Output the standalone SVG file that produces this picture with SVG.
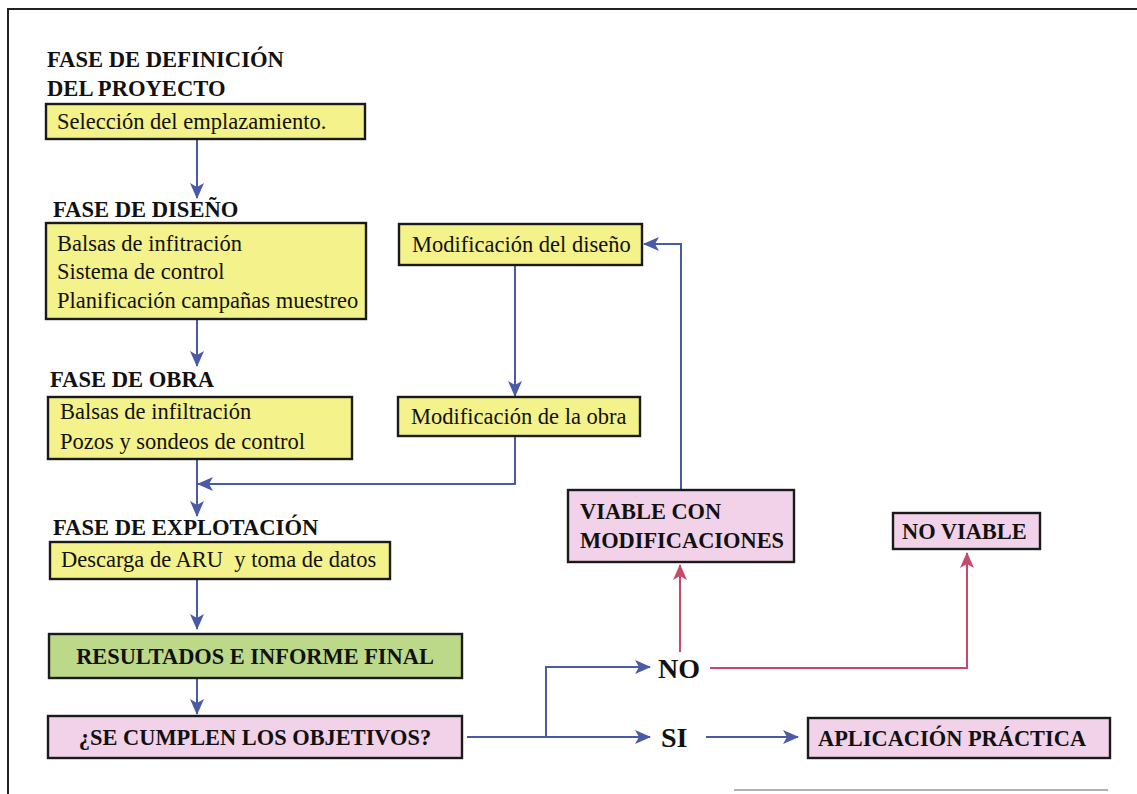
<svg xmlns="http://www.w3.org/2000/svg" width="1137" height="794" viewBox="0 0 1137 794">
<style>
.h{font-family:"Liberation Serif","Times New Roman",serif;font-weight:bold;font-size:22.6px;fill:#111}
.t{font-family:"Liberation Serif","Times New Roman",serif;font-size:22.5px;fill:#111}
.b{font-family:"Liberation Serif","Times New Roman",serif;font-weight:bold;font-size:22.4px;fill:#111}
.big{font-size:28px}
.y{fill:#f4f28a;stroke:#1a1a1a;stroke-width:2.4}
.g{fill:#bcd98a;stroke:#1a1a1a;stroke-width:2.4}
.p{fill:#f1d2e8;stroke:#1a1a1a;stroke-width:2.4}
.cb{fill:none;stroke:#4a5aa6;stroke-width:2}
.cr{fill:none;stroke:#c8486c;stroke-width:2}
</style>
<defs>
<marker id="ab" markerUnits="userSpaceOnUse" markerWidth="16" markerHeight="14" refX="15" refY="7" orient="auto">
<path d="M0,0 L16,7 L0,14 L4,7 Z" fill="#4a5aa6"/>
</marker>
<marker id="ar" markerUnits="userSpaceOnUse" markerWidth="16" markerHeight="14" refX="15" refY="7" orient="auto">
<path d="M0,0 L16,7 L0,14 L4,7 Z" fill="#c8486c"/>
</marker>
</defs>
<rect width="1137" height="794" fill="#ffffff"/>
<g id="frame" fill="none" stroke="#222" stroke-width="2">
<path d="M8,794 V9 H1137"/>
<path d="M734,790 H1108" stroke="#999" stroke-width="1.5"/>
</g>
<g id="connectors">
<path class="cb" d="M197,140 V198" marker-end="url(#ab)"/>
<path class="cb" d="M197,319 V366" marker-end="url(#ab)"/>
<path class="cb" d="M197,459 V516" marker-end="url(#ab)"/>
<path class="cb" d="M515,436 V484 H198" marker-end="url(#ab)"/>
<path class="cb" d="M197,579 V629" marker-end="url(#ab)"/>
<path class="cb" d="M197,678 V714" marker-end="url(#ab)"/>
<path class="cb" d="M467,737 H650" marker-end="url(#ab)"/>
<path class="cb" d="M546,737 V667 H650" marker-end="url(#ab)"/>
<path class="cb" d="M706,737 H798" marker-end="url(#ab)"/>
<path class="cb" d="M681,490 V244 H644" marker-end="url(#ab)"/>
<path class="cb" d="M515,265 V396" marker-end="url(#ab)"/>
<path class="cr" d="M680,652 V565" marker-end="url(#ar)"/>
<path class="cr" d="M710,668 H967 V553" marker-end="url(#ar)"/>
</g>
<g id="heading-definicion">
<text class="h" x="47" y="67">FASE DE DEFINICIÓN</text>
<text class="h" x="47" y="96">DEL PROYECTO</text>
</g>
<g id="node-seleccion">
<rect class="y" x="46" y="104" width="319" height="35"/>
<text class="t" x="57" y="129">Selección del emplazamiento.</text>
</g>
<g id="heading-diseno"><text class="h" x="53" y="217">FASE DE DISEÑO</text></g>
<g id="node-diseno">
<rect class="y" x="46" y="223" width="320" height="96"/>
<text class="t" x="57" y="251">Balsas de infitración</text>
<text class="t" x="57" y="279">Sistema de control</text>
<text class="t" x="57" y="308">Planificación campañas muestreo</text>
</g>
<g id="heading-obra"><text class="h" x="50" y="387">FASE DE OBRA</text></g>
<g id="node-obra">
<rect class="y" x="48" y="397" width="304" height="62"/>
<text class="t" x="60" y="419">Balsas de infiltración</text>
<text class="t" x="60" y="449">Pozos y sondeos de control</text>
</g>
<g id="heading-explotacion"><text class="h" x="53" y="535">FASE DE EXPLOTACIÓN</text></g>
<g id="node-explotacion">
<rect class="y" x="50" y="542" width="340" height="37"/>
<text class="t" x="61" y="567" xml:space="preserve">Descarga de ARU  y toma de datos</text>
</g>
<g id="node-resultados">
<rect class="g" x="49" y="634" width="413" height="44"/>
<text class="b" x="255" y="664" text-anchor="middle">RESULTADOS E INFORME FINAL</text>
</g>
<g id="node-cumplen">
<rect class="p" x="48" y="716" width="414" height="42"/>
<text class="b" x="255" y="745" text-anchor="middle">¿SE CUMPLEN LOS OBJETIVOS?</text>
</g>
<g id="node-mod-diseno">
<rect class="y" x="399" y="224" width="243" height="41"/>
<text class="t" x="412" y="252">Modificación del diseño</text>
</g>
<g id="node-mod-obra">
<rect class="y" x="398" y="397" width="242" height="39"/>
<text class="t" x="411" y="424">Modificación de la obra</text>
</g>
<g id="node-viable">
<rect class="p" x="568" y="490" width="226" height="72"/>
<text class="b" x="580" y="519">VIABLE CON</text>
<text class="b" x="580" y="548">MODIFICACIONES</text>
</g>
<g id="node-no-viable">
<rect class="p" x="893" y="513" width="147" height="36"/>
<text class="b" x="902" y="539">NO VIABLE</text>
</g>
<g id="node-aplicacion">
<rect class="p" x="808" y="718" width="302" height="40"/>
<text class="b" x="818" y="746">APLICACIÓN PRÁCTICA</text>
</g>
<g id="label-no"><text class="b big" x="658" y="678">NO</text></g>
<g id="label-si"><text class="b big" x="661" y="747">SI</text></g>
</svg>
